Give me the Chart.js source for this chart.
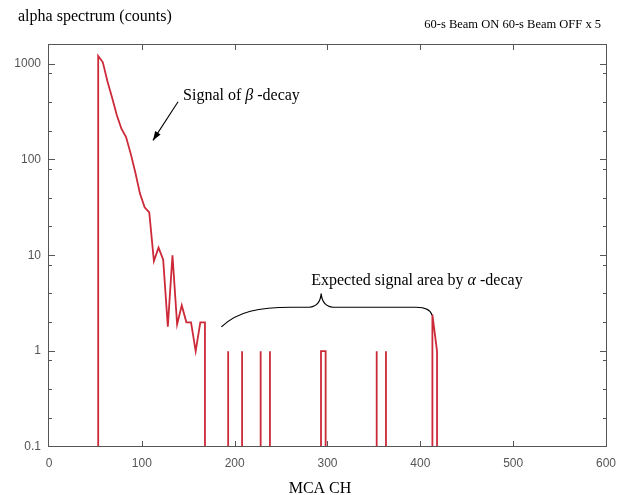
<!DOCTYPE html>
<html>
<head>
<meta charset="utf-8">
<script src="https://cdn.jsdelivr.net/npm/chart.js@4.4.1/dist/chart.umd.min.js"></script>
<style>
  html, body { margin: 0; padding: 0; background: #ffffff; }
  canvas { display: block; }
</style>
</head>
<body>
<canvas id="c" width="625" height="495"></canvas>
<script>
// ---- data ----
const BIN_WIDTH = 5;
const channels = [53, 58, 63, 68, 73, 78, 83, 88, 93, 98, 103, 108, 113, 118, 123, 128, 133, 138, 143, 148, 153, 158, 163, 168,
                  193, 208, 228, 238, 293, 298, 353, 363, 413, 418];
const counts   = [1200, 1030, 650, 440, 290, 209, 171, 115, 73, 44, 31.6, 28, 8.7, 12, 9, 1.8, 10, 1.9, 3, 2, 2, 1, 2, 2,
                  1, 1, 1, 1, 1, 1, 1, 1, 2.4, 1];
const xTickValues = [0, 100, 200, 300, 400, 500, 600];
const xTickLabels = ['0', '100', '200', '300', '400', '500', '600'];
const yTickValues = [0.1, 1, 10, 100, 1000];
const yTickLabels = ['0.1', '1', '10', '100', '1000'];
const yMinorTicks = [0.2, 0.4, 0.8, 2, 4, 8, 20, 40, 80, 200, 400, 800];
const X_MIN = 0, X_MAX = 600, Y_MIN = 0.1, Y_MAX = 1600;

const titleText = 'alpha spectrum (counts)';
const subtitleText = '60-s Beam ON 60-s Beam OFF x 5';
const xAxisTitle = 'MCA CH';

// annotation anchors (data units)
const betaLabel = { x: 144.4, y: 419, pre: 'Signal of ', greek: '\u03B2', post: ' -decay' };
const betaArrow = { from: { x: 139, y: 400 }, to: { x: 112, y: 158 } };
const alphaLabel = { x: 282.5, y: 4.87, pre: 'Expected signal area by ', greek: '\u03B1', post: ' -decay' };
const brace = { left: { x: 185.7, y: 1.79 }, tip: { x: 293.2, y: 4.0 }, right: { x: 412.6, y: 2.37 }, level: 2.87 };

// ---- build the line with vertical drops to the axis floor around each run of filled bins ----
const points = [];
for (let i = 0; i < channels.length; i++) {
  const newRun = i === 0 || channels[i] - channels[i - 1] > BIN_WIDTH;
  if (newRun) {
    if (i > 0) {
      points.push({ x: channels[i - 1], y: Y_MIN });
      points.push({ x: channels[i - 1], y: null });
    }
    points.push({ x: channels[i], y: Y_MIN });
  }
  points.push({ x: channels[i], y: counts[i] });
}
points.push({ x: channels[channels.length - 1], y: Y_MIN });

const RED = '#cc2a38';
const AXIS = '#555555';
const SERIF = '"Liberation Serif", "Times New Roman", serif';
const SANS = '"Liberation Sans", Arial, sans-serif';

const decorPlugin = {
  id: 'decor',
  beforeDraw(chart) {
    const ctx = chart.ctx;
    ctx.save();
    ctx.fillStyle = '#ffffff';
    ctx.fillRect(0, 0, chart.width, chart.height);
    ctx.restore();
  },
  afterDatasetsDraw(chart) {
    const { ctx, chartArea: a, scales: { x, y } } = chart;
    ctx.save();
    // frame
    ctx.strokeStyle = AXIS;
    ctx.lineWidth = 1;
    ctx.strokeRect(Math.round(a.left) - 0.5, Math.round(a.top) + 0.5,
                   Math.round(a.right) - Math.round(a.left) + 1, Math.round(a.bottom) - Math.round(a.top) - 1);
    // inward ticks
    ctx.beginPath();
    xTickValues.forEach(v => {
      if (v === X_MIN || v === X_MAX) return;
      const px = Math.round(x.getPixelForValue(v)) + 0.5;
      ctx.moveTo(px, a.bottom); ctx.lineTo(px, a.bottom - 6);
      ctx.moveTo(px, a.top); ctx.lineTo(px, a.top + 6);
    });
    yTickValues.forEach(v => {
      if (v === Y_MIN) return;
      const py = Math.round(y.getPixelForValue(v)) + 0.5;
      ctx.moveTo(a.left, py); ctx.lineTo(a.left + 6, py);
      ctx.moveTo(a.right, py); ctx.lineTo(a.right - 6, py);
    });
    yMinorTicks.forEach(v => {
      const py = Math.round(y.getPixelForValue(v)) + 0.5;
      ctx.moveTo(a.left, py); ctx.lineTo(a.left + 3, py);
      ctx.moveTo(a.right, py); ctx.lineTo(a.right - 3, py);
    });
    ctx.stroke();

    // texts
    ctx.fillStyle = '#000';
    ctx.textBaseline = 'alphabetic';
    ctx.font = '16px ' + SERIF;
    ctx.textAlign = 'left';
    ctx.fillText(titleText, 18, 21);
    ctx.font = '12.5px ' + SERIF;
    ctx.textAlign = 'right';
    ctx.fillText(subtitleText, 601, 28);
    ctx.font = '16px ' + SERIF;
    ctx.textAlign = 'center';
    ctx.fillText(xAxisTitle, 320, 493);

    // labels with greek letters
    const drawLabel = (lab) => {
      let px = x.getPixelForValue(lab.x);
      const py = y.getPixelForValue(lab.y);
      ctx.textAlign = 'left';
      ctx.font = '16px ' + SERIF;
      ctx.fillText(lab.pre, px, py);
      px += ctx.measureText(lab.pre).width;
      ctx.font = 'italic 16px ' + SERIF;
      ctx.fillText(lab.greek, px, py);
      px += ctx.measureText(lab.greek).width;
      ctx.font = '16px ' + SERIF;
      ctx.fillText(lab.post, px, py);
    };
    drawLabel(betaLabel);
    drawLabel(alphaLabel);

    // arrow
    const fx = x.getPixelForValue(betaArrow.from.x), fy = y.getPixelForValue(betaArrow.from.y);
    const tx = x.getPixelForValue(betaArrow.to.x), ty = y.getPixelForValue(betaArrow.to.y);
    ctx.strokeStyle = '#000';
    ctx.lineWidth = 1.1;
    ctx.beginPath();
    ctx.moveTo(fx, fy); ctx.lineTo(tx, ty);
    ctx.stroke();
    const ang = Math.atan2(ty - fy, tx - fx);
    const hl = 9, hw = 3.2;
    ctx.beginPath();
    ctx.moveTo(tx, ty);
    ctx.lineTo(tx - hl * Math.cos(ang) + hw * Math.sin(ang), ty - hl * Math.sin(ang) - hw * Math.cos(ang));
    ctx.lineTo(tx - hl * Math.cos(ang) - hw * Math.sin(ang), ty - hl * Math.sin(ang) + hw * Math.cos(ang));
    ctx.closePath();
    ctx.fillStyle = '#000';
    ctx.fill();

    // brace
    const L = { x: x.getPixelForValue(brace.left.x), y: y.getPixelForValue(brace.left.y) };
    const T = { x: x.getPixelForValue(brace.tip.x), y: y.getPixelForValue(brace.tip.y) };
    const R = { x: x.getPixelForValue(brace.right.x), y: y.getPixelForValue(brace.right.y) };
    const m = y.getPixelForValue(brace.level);
    ctx.lineWidth = 1.2;
    ctx.beginPath();
    ctx.moveTo(L.x, L.y);
    ctx.bezierCurveTo(L.x + 16, m + 4, L.x + 38, m, L.x + 70, m);
    ctx.lineTo(T.x - 12, m);
    ctx.quadraticCurveTo(T.x - 1, m - 1, T.x, T.y);
    ctx.quadraticCurveTo(T.x + 1, m - 1, T.x + 12, m);
    ctx.lineTo(R.x - 16, m);
    ctx.quadraticCurveTo(R.x - 2, m, R.x, R.y);
    ctx.stroke();
    ctx.restore();
  }
};

new Chart(document.getElementById('c'), {
  type: 'line',
  data: {
    datasets: [{
      data: points,
      borderColor: RED,
      borderWidth: 1.8,
      pointRadius: 0,
      tension: 0,
      fill: false,
      spanGaps: false
    }]
  },
  options: {
    responsive: false,
    animation: false,
    layout: { padding: { left: 0, right: 18, top: 44, bottom: 0 } },
    plugins: { legend: { display: false }, tooltip: { enabled: false }, title: { display: false } },
    scales: {
      x: {
        type: 'linear',
        min: X_MIN, max: X_MAX,
        afterBuildTicks: s => { s.ticks = xTickValues.map(v => ({ value: v })); },
        afterFit: s => { s.height = 48; },
        ticks: {
          autoSkip: false, maxRotation: 0, padding: 9,
          color: AXIS, font: { family: SANS, size: 12 },
          callback: (v) => { const i = xTickValues.indexOf(v); return i >= 0 ? xTickLabels[i] : ''; }
        },
        grid: { display: false, drawTicks: false },
        border: { display: false }
      },
      y: {
        type: 'logarithmic',
        min: Y_MIN, max: Y_MAX,
        afterBuildTicks: s => { s.ticks = yTickValues.map(v => ({ value: v })); },
        afterFit: s => { s.width = 49; },
        ticks: {
          autoSkip: false, padding: 8,
          color: AXIS, font: { family: SANS, size: 12 },
          callback: (v) => { const i = yTickValues.indexOf(v); return i >= 0 ? yTickLabels[i] : ''; }
        },
        grid: { display: false, drawTicks: false },
        border: { display: false }
      }
    }
  },
  plugins: [decorPlugin]
});
</script>
</body>
</html>
